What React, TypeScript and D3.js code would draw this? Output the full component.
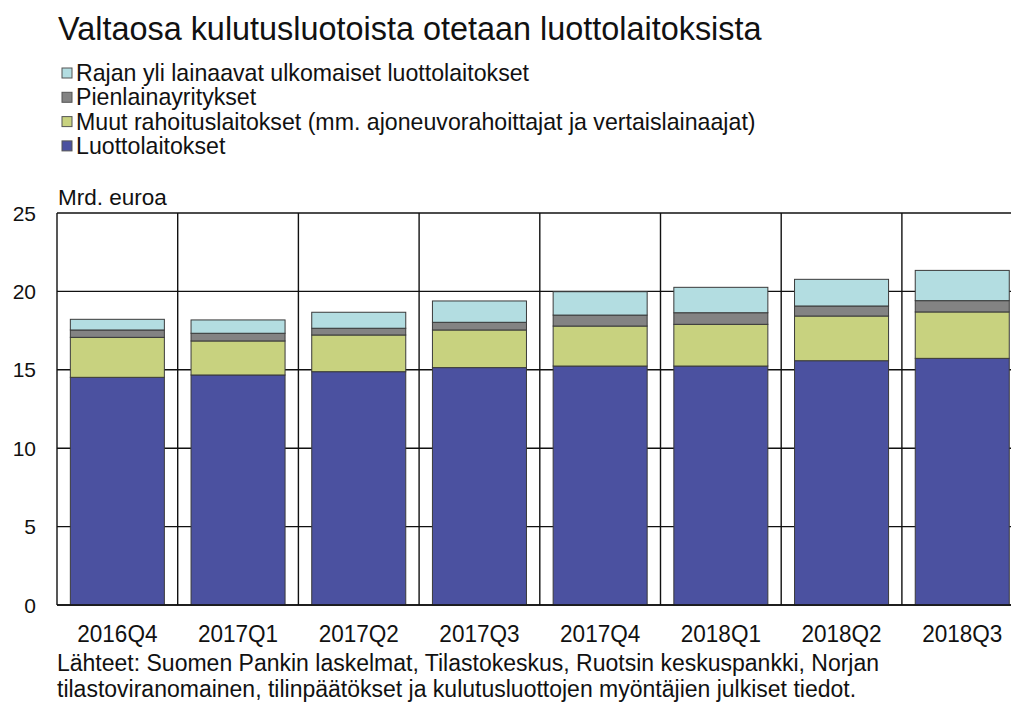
import React from "react";
import * as d3 from "d3";

const categories = ["2016Q4", "2017Q1", "2017Q2", "2017Q3", "2017Q4", "2018Q1", "2018Q2", "2018Q3"];
const luottolaitokset = [14.52, 14.67, 14.88, 15.14, 15.24, 15.24, 15.58, 15.73];
const muutRahoitus = [2.55, 2.17, 2.34, 2.40, 2.55, 2.66, 2.85, 2.96];
const pienlaina = [0.47, 0.49, 0.43, 0.49, 0.70, 0.74, 0.64, 0.72];
const rajanYli = [0.68, 0.85, 1.02, 1.36, 1.49, 1.62, 1.70, 1.93];
const yTicks = [0, 5, 10, 15, 20, 25];

const seriesNames = [
  "Luottolaitokset",
  "Muut rahoituslaitokset (mm. ajoneuvorahoittajat ja vertaislainaajat)",
  "Pienlainayritykset",
  "Rajan yli lainaavat ulkomaiset luottolaitokset",
];
const seriesColors = ["#4B51A0", "#C8D27F", "#838383", "#B3DDE1"];
const seriesValues = [luottolaitokset, muutRahoitus, pienlaina, rajanYli];

const W = 1011;
const H = 702;
const left = 57;
const right = 1022.6;
const top = 213;
const bottom = 605;
const FONT = "'Liberation Sans', Arial, sans-serif";

function T({ x, y, size, sx = 1, anchor = "start", children }: any) {
  return (
    <text
      transform={`translate(${x},${y}) scale(${sx},1)`}
      fontSize={size}
      textAnchor={anchor}
      fill="#111"
    >
      {children}
    </text>
  );
}

export default function App() {
  const x = d3.scaleBand<string>().domain(categories).range([left, right]).paddingInner(0.221).paddingOuter(0.1105);
  const y = d3.scaleLinear().domain([0, 25]).range([bottom, top]);
  const step = x.step();

  const rows = categories.map((c, i) => {
    const r: any = { cat: c };
    seriesNames.forEach((n, k) => (r[n] = seriesValues[k][i]));
    return r;
  });
  const stack = d3.stack<any>().keys(seriesNames)(rows);

  const legendOrder = [3, 2, 1, 0];

  return (
    <svg width={W} height={H} style={{ position: "fixed", left: 0, top: 0, background: "#fff" }} fontFamily={FONT}>
      <rect x={0} y={0} width={W} height={H} fill="#fff" />
      <T x={58} y={39.5} size={34} sx={0.953}>Valtaosa kulutusluotoista otetaan luottolaitoksista</T>

      {legendOrder.map((k, j) => (
        <g key={k} transform={`translate(0, ${73 + j * 24.3})`}>
          <rect x={62} y={-5} width={10} height={10} fill={seriesColors[k]} stroke="#555" strokeWidth={1} />
          <T x={76} y={8} size={24} sx={0.965}>{seriesNames[k]}</T>
        </g>
      ))}

      <T x={58} y={205} size={22.5}>Mrd. euroa</T>

      {yTicks.map((t) => (
        <g key={t}>
          <line x1={left} x2={right} y1={y(t)} y2={y(t)} stroke="#111" strokeWidth={1.4} />
          <T x={36} y={y(t) + 7.5} size={21} anchor="end">{t}</T>
        </g>
      ))}

      {d3.range(categories.length + 1).map((i) => (
        <line key={i} x1={left + i * step} x2={left + i * step} y1={top} y2={bottom} stroke="#111" strokeWidth={1.4} />
      ))}

      {stack.map((s, k) => (
        <g key={k}>
          {s.map((d, i) => (
            <rect
              key={i}
              x={x(categories[i])}
              width={x.bandwidth()}
              y={y(d[1])}
              height={y(d[0]) - y(d[1])}
              fill={seriesColors[k]}
              stroke="#3a3a3a"
              strokeWidth={1}
            />
          ))}
        </g>
      ))}

      <line x1={left} x2={right} y1={bottom} y2={bottom} stroke="#111" strokeWidth={1.4} />

      {categories.map((c) => (
        <T key={c} x={(x(c) as number) + x.bandwidth() / 2} y={642} size={23} sx={0.98} anchor="middle">{c}</T>
      ))}

      <T x={57} y={671} size={23} sx={1.0}>Lähteet: Suomen Pankin laskelmat, Tilastokeskus, Ruotsin keskuspankki, Norjan</T>
      <T x={57} y={696.5} size={23} sx={1.0}>tilastoviranomainen, tilinpäätökset ja kulutusluottojen myöntäjien julkiset tiedot.</T>
    </svg>
  );
}
